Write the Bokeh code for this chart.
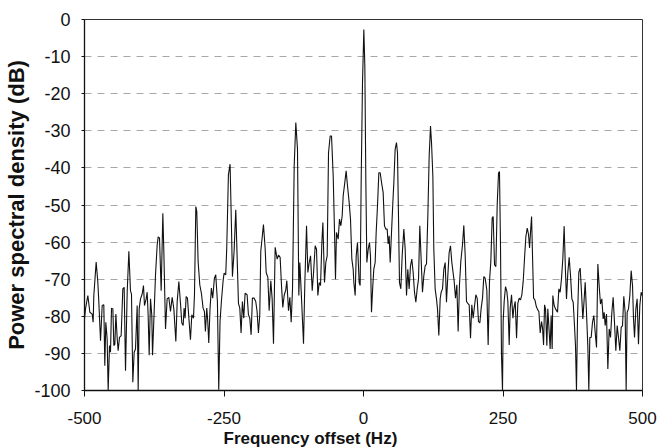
from bokeh.plotting import figure
from bokeh.models import FixedTicker, ColumnDataSource, Title
from bokeh.embed import file_html
from bokeh.resources import INLINE

# Frequency offset (Hz) and power spectral density (dB)
freq_hz = [
    -500, -498.2, -494, -490.4, -486.2, -484.5, -483.3, -479.1, -476.1, -474.3,
    -471.3, -468.3, -465.4, -463.6, -461.8, -459.4, -457.6, -455.2, -453.4, -451.6,
    -449.2, -447.4, -445.6, -443.8, -441.5, -439.7, -437.3, -434.3, -431.3, -428.9,
    -426.5, -423.5, -420.5, -417.6, -415.8, -413.4, -411, -408.6, -405.6, -403.8,
    -402, -399.6, -396.6, -394.3, -392.5, -389.5, -387.7, -385.9, -384.1, -381.7,
    -379.4, -378.1, -375.2, -372.8, -369.8, -368, -365.6, -362.6, -359.6, -357.8,
    -354.8, -351.9, -348.9, -345.9, -342.9, -339.9,
    -336.3, -333.9, -330.9, -328, -325.6, -323.2, -321.5, -319.7, -317.9, -315.5,
    -312.5, -310.1, -307.7, -304.7, -302.9, -300.5, -298.8, -296.4, -293.4, -290.5,
    -287.5, -285.1, -283.3, -280.9, -279.1, -277.3, -275, -272.6, -270.2, -267.2,
    -264.8, -261.8, -259.4, -257.1, -254.7, -251.7, -249.9, -246.9, -245.1, -242.1,
    -239.1, -236.7, -234.9, -231.9, -228.9, -225.9, -224.1, -221.7, -219.4, -217,
    -214.6, -212.2, -208.6, -206.2, -203.8, -201.4, -199.1, -196.1, -193.1, -190.7,
    -188.3, -185.9, -184.1, -181.1, -179.3, -176.3,
    -174.4, -171.4, -169.1, -166.1, -163.7, -161.3, -158.3, -154.7, -152.3, -149.4,
    -146.8, -144.6, -142.2, -139.2, -137.4, -134.4, -132, -129.6, -127.2, -124.2,
    -121.3, -118.3, -115.9, -114.1, -111.7, -107.5, -105.1, -102.1, -99.7, -97.3,
    -94.9, -91.9, -89.5, -86.6, -84.2, -81.8, -79.4, -77, -74.6, -72.8,
    -69.9, -67.5, -65.1, -62.7, -59.7, -57.3, -54.3, -51.9, -50.2, -48.4,
    -45.4, -43, -40.6, -38.2, -36.4, -33.5, -31.1, -28.7, -25.7, -23.3,
    -20.9, -18.5, -17.3, -14.9, -13.1, -10.8, -7.8, -6, -4.2, -1.8, 0.6,
    2.4, 4.2, 6, 8.4, 10.8, 12.5, 14.3, 16.7, 18.5, 20.9,
    22.7, 25.1, 27.5, 29.9, 32.3, 35.2, 37.6, 40, 42.4, 44.2,
    46, 47.8, 50.2, 52.6, 54.4, 56.7, 59.1, 60.9, 62.7, 64.5,
    66.9, 69.3, 72.3, 74.7, 77.1, 79.4, 81.8, 84.2, 86.6, 89,
    91.4, 93.8, 96.2, 98.6, 100.9, 103.3, 105.7, 108.1, 110.5, 112.9,
    115.3, 117.7, 120.1, 121.9, 124.3, 126, 128.4, 130.8, 132.6, 135,
    137.4, 139.2, 141.6, 144, 146.4, 148.7, 151.1, 153.5, 155.9, 158.3,
    162.5, 164.9, 167.3, 169.6, 172, 174.4, 177.4, 179.8, 182.2, 184.6,
    186.9, 189.4, 191.8, 194.1, 196.5, 198.9, 201.3, 203.7, 206.1, 208.5,
    210.9, 213.3, 215.6, 218, 221, 223.4, 225.8, 228.2, 230.6, 232.4,
    234.8, 237.2, 239.6, 242, 243.7, 245.5, 247.3, 249.1, 250.3, 252.1,
    254.5, 256.9, 258.7, 261.1, 262.9, 265.3, 267.7, 269.5, 271.9, 274.3,
    276.6, 279, 281.4, 283.8, 286.2, 288.6, 291, 293.4, 295.8, 297.6,
    299.4, 301.2, 303, 304.8, 307.2, 309.6, 312, 314.3, 316.7, 319.1,
    320.9, 322.7, 324.5,
    326.2, 328.6, 330.3, 332.1, 334.5, 336.3, 338.1, 339.3, 341.7, 344.1,
    347.7, 350.1, 352.4, 354.8, 357.2, 359.6, 362, 363.8, 366.2, 368.6,
    371, 373.4, 375.8, 378.1, 379.9, 381.7, 383.5, 385.9, 388.3, 390.7,
    393.1, 395.5, 397.3, 399.6, 402, 403.8, 405.6, 408, 410.4, 412.8,
    415.2, 417.6, 420, 422.3, 424.7, 427.1, 429.5, 431.3, 433.1, 435.5,
    437.9, 440.3, 442.7, 445.1, 447.4, 449.8, 452.2, 454.6, 457, 459.4,
    461.8, 464.2, 466.5, 468.9, 470.7, 472.5, 474.9, 477.3, 479.7, 482.1,
    483.9, 485.7, 488.1, 490.4, 492.8, 495.2, 497.6, 499.4,
]

psd_db = [
    -80.7, -78, -74.4, -78.9, -79.4, -81.6, -74.4, -65.4, -70.8, -76.2,
    -86.6, -77.1, -76.9, -93.3, -81.6, -86.1, -100, -87.9, -89.7, -77.8,
    -78, -87.9, -87.5, -79.4, -85.7, -89.3, -85.7, -85.2, -72.6, -72.2,
    -94.7, -73.5, -62.5, -73.1, -74, -97.8, -89.7, -88.8, -77.1, -100,
    -78, -75.3, -74, -71.7, -77.1, -75.3, -73.5, -79.8, -90.5, -75.3,
    -79.8, -90.5, -78.9, -69, -60.9, -58.6, -58.9, -73.1, -52.2, -62.7,
    -83.4, -75.3, -74.9, -78.7, -74.9, -78,
    -86.8, -76, -70.6, -76.5, -81.8, -82.5, -77.8, -80.5, -74.7, -75.1,
    -81.4, -86.3, -79.6, -80.5, -74.2, -50.4, -51.7, -65.2, -71.5, -73.8,
    -77.8, -78.7, -84.1, -77.8, -81.4, -87.2, -77.8, -72.4, -75.1, -69.7,
    -68.8, -76, -99.8, -81.4, -76, -70.6, -68.4, -68.8, -61.6, -41.9,
    -39, -55.3, -69.3, -62.5, -51.3, -67, -76.5, -77.8, -84.5, -76,
    -80.5, -73.8, -74.2, -79.6, -80.5, -85, -75.1, -75.1, -76, -78.7,
    -84.5, -79.6, -62.5, -58, -55.3, -61.6,
    -68.2, -69.5, -78.5, -70.4, -75.3, -87.4, -61.4, -64.6, -63.5, -64.1,
    -72.2, -77.6, -74.4, -72.8, -70.4, -78.5, -74.9, -81.6, -72.6, -39.5,
    -27.8, -35, -74.4, -65.5, -73.1, -87.4, -70.9, -55.6, -68.2, -65.5,
    -63.7, -73.1, -68.2, -61, -61.9, -74.4, -70.9, -71.7, -60.1, -54.7,
    -70.9, -65.5, -63.7, -35.9, -31.4, -31.4, -42.2, -57.4, -70, -57.4,
    -59.2, -53.8, -55.6, -52.9, -47.5, -43.9, -40.8, -44.8, -49.3, -53.8,
    -64.6, -67.3, -70.9, -74.4, -63.7, -60.1, -70.9, -71.7, -43.9, -17, -2.7,
    -12.6, -43.9, -65.5, -61.9, -60.1, -63.7, -78.9, -71.7, -67.3, -65.5,
    -57.4, -50.2, -41.3, -41.3, -43.9, -46.6, -55.6, -56.5, -56.5, -60.5,
    -58.3, -65.5, -57.4, -49.3, -43.9, -35, -33.2, -35.9, -52.9, -70.9,
    -72.6, -63.7, -56.5, -61.9, -74.4, -67.3, -72.6, -66.4, -64.6, -68.2,
    -73.5, -76.2, -72.6, -70, -55.6, -64.6, -73.5, -69.1, -66.4, -65.9,
    -52.9, -36.8, -28.7, -33.2, -42.2, -61.9, -72.6, -75.3, -78, -85.2,
    -75.3, -73.5, -72.6, -67.3, -65.5, -76.2, -69.1, -62.8, -61, -65.5,
    -70.6, -75.1, -71.5, -84.1, -71.5, -65.2, -60.7, -55.5, -63.4, -76,
    -76.5, -76.9, -85.9, -76.9, -80.5, -77.3, -74.2, -75.1, -81.4, -81.8,
    -77.8, -75.1, -69.3, -69.7, -72.9, -87.7, -70.6, -65.2, -53.5, -53.1,
    -66.1, -66.6, -49.9, -41.4, -41, -60.7, -90.4, -100, -81.4, -76,
    -72, -73.3, -76, -87.7, -77.8, -74.2, -80.5, -77.8, -76, -85.9,
    -76.5, -75.1, -75.6, -74.2, -70.6, -64.3, -58.5, -56.2, -58, -61.6,
    -57.1, -53.1, -64.3, -75.1, -75.6, -77.3, -78.2, -78.7, -84.5, -81.4,
    -83.2, -87.7, -76.9,
    -78, -87.9, -78, -82.5, -88.8, -79.8, -88.8, -74.4, -77.1, -78,
    -78.9, -72.6, -73.5, -69.9, -64.5, -55.7, -68.1, -75.3, -68.1, -64.1,
    -69, -75.3, -76.2, -82.5, -87.9, -100, -80.7, -68.1, -67, -73.5,
    -80.7, -75.3, -70.8, -78.9, -87.9, -100, -85.7, -85.7, -81.6, -79.8,
    -84.3, -88.4, -65.9, -71.7, -76.7, -75.3, -80.7, -78.9, -82.5, -79.4,
    -94.2, -83.4, -85.7, -78.9, -74.9, -81.6, -89.3, -82.5, -85.7, -89.3,
    -83, -82.5, -74.6, -78.9, -100, -78.9, -78, -74.4, -67.7, -71.7,
    -80.7, -85.7, -78, -75.3, -87.5, -77.1, -73.5, -74.4,
]

x_ticks = [-500, -250, 0, 250, 500]
y_ticks = [-100, -90, -80, -70, -60, -50, -40, -30, -20, -10, 0]
x_title = "Frequency offset (Hz)"
y_title = "Power spectral density (dB)"

FONT = "Liberation Sans"

p = figure(width=658, height=447, x_range=(-500, 500), y_range=(-100, 0),
           output_backend="svg", toolbar_location=None,
           min_border_left=84, min_border_right=16,
           min_border_top=19, min_border_bottom=57)

src = ColumnDataSource(data=dict(f=freq_hz, d=psd_db))
p.line("f", "d", source=src, line_color="#111111", line_width=1.1)

p.xaxis.ticker = FixedTicker(ticks=x_ticks)
p.yaxis.ticker = FixedTicker(ticks=y_ticks)
p.xaxis.major_label_overrides = {t: str(t) for t in x_ticks}
p.yaxis.major_label_overrides = {t: str(t) for t in y_ticks}

p.xgrid.visible = False
p.ygrid.grid_line_color = "#a8a8a8"
p.ygrid.grid_line_dash = "7 6"
p.ygrid.grid_line_width = 1

for ax in (p.xaxis[0], p.yaxis[0]):
    ax.axis_line_color = "#111111"
    ax.axis_line_width = 1.3
    ax.major_tick_line_color = "#111111"
    ax.minor_tick_line_color = None
    ax.major_tick_in = 0
    ax.major_label_text_font = FONT
    ax.major_label_text_color = "#111111"
    ax.axis_label_text_font = FONT
    ax.axis_label_text_font_style = "bold"
    ax.axis_label_text_color = "#111111"

p.xaxis.major_label_text_font_size = "17px"
p.yaxis.major_label_text_font_size = "18px"
p.xaxis.major_tick_out = 6
p.yaxis.major_tick_out = 3
p.xaxis.major_label_standoff = 15
p.yaxis.major_label_standoff = 11

p.yaxis.axis_label = y_title
p.yaxis.axis_label_text_font_size = "22px"
p.yaxis.axis_label_standoff = 2

# x-axis title sits left of centre in the reference
p.add_layout(Title(text=x_title, align="left", offset=139, standoff=0,
                   text_font=FONT, text_font_style="bold",
                   text_font_size="17px", text_color="#111111"), "below")

p.outline_line_color = "#333333"
p.outline_line_width = 1
p.background_fill_color = "white"
p.border_fill_color = "white"

open("out.html", "w").write(file_html(p, INLINE))
